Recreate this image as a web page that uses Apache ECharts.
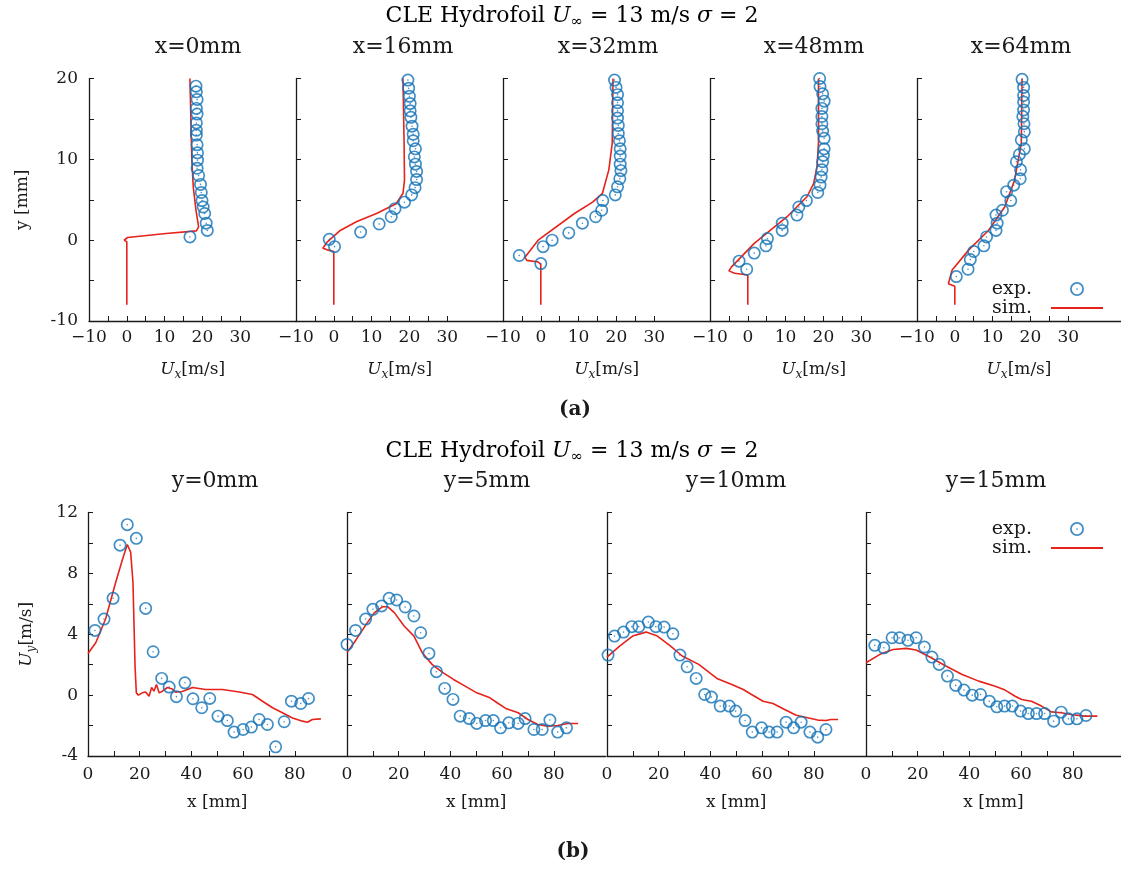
<!DOCTYPE html>
<html><head><meta charset="utf-8">
<script src="https://cdn.jsdelivr.net/npm/echarts@6/dist/echarts.min.js"></script>
<style>html,body{margin:0;padding:0;background:#fff}#c{width:1121px;height:869px}</style>
</head><body><div id="c"></div>
<script>
// ---------- (a) streamwise velocity profiles U_x(y) at several stations ----------
const topTitles = ['x=0mm', 'x=16mm', 'x=32mm', 'x=48mm', 'x=64mm'];
const topXTicks = [-10, 0, 10, 20, 30];
const topYTicks = [-10, 0, 10, 20];

const exp_x0 = [[18.3,19.05],[18.4,18.35],[18.6,17.4],[18.4,16.3],[18.6,15.6],[18.4,14.5],[18.4,13.6],[18.4,13.0],[18.6,11.8],[18.7,10.8],[18.7,9.9],[18.6,8.9],[19.0,8.0],[19.5,6.9],[19.7,5.9],[19.9,4.9],[20.2,4.1],[20.6,3.3],[21.0,2.1],[21.3,1.2],[16.7,0.4]];
const sim_x0 = [[16.7,20],[17.2,9.9],[17.6,6.5],[18.3,3.7],[19.0,1.65],[18.4,1.15],[9.7,0.8],[0.2,0.33],[-0.7,0],[0,-0.2],[0,-8]];

const exp_x16 = [[19.6,19.8],[19.8,18.8],[20.0,17.8],[20.2,16.9],[20.2,16.0],[20.4,15.2],[20.7,14.1],[21.0,13.1],[21.0,12.3],[21.6,11.3],[21.3,10.3],[21.6,9.4],[21.9,8.5],[21.9,7.5],[21.5,6.5],[20.6,5.6],[18.7,4.7],[16.2,3.9],[15.2,2.9],[12.0,2.0],[7.1,1.0],[-1.2,0.1],[0.2,-0.8]];
const sim_x16 = [[18.3,20],[18.6,12],[18.7,7.4],[18.3,5.8],[16.5,4.5],[11.3,3.3],[6.1,2.3],[1.7,1.2],[-1.7,-0.2],[-2.9,-1.0],[-1.7,-1.2],[0,-1.4],[0,-8]];

const exp_x32 = [[19.5,19.8],[19.9,18.9],[20.3,18.0],[20.3,17.0],[20.3,16.0],[20.3,15.1],[20.5,14.2],[20.5,13.2],[20.8,12.3],[21.0,11.3],[21.0,10.4],[21.0,9.4],[21.2,8.6],[20.9,7.6],[20.3,6.6],[19.7,5.6],[16.4,4.9],[16.1,3.7],[14.5,2.9],[11.0,2.1],[7.4,0.9],[3.0,0.0],[0.6,-0.8],[-5.7,-1.9],[0,-2.9]];
const sim_x32 = [[19.1,20],[18.9,12],[18.0,8.7],[16.3,5.8],[13.7,4.7],[8.9,3.3],[-0.7,0],[-4.2,-2.1],[-3.7,-2.5],[-0.7,-2.7],[0,-3.0],[0,-8]];

const exp_x48 = [[19.0,20.0],[19.1,19.0],[19.8,18.1],[20.2,17.2],[19.6,16.3],[19.6,15.3],[19.6,14.4],[19.8,13.5],[20.2,12.6],[20.2,11.3],[20.0,10.5],[19.8,9.7],[19.6,8.7],[19.4,7.8],[19.1,6.8],[18.5,5.9],[15.5,4.9],[13.5,4.1],[13.0,3.1],[9.1,2.1],[9.1,1.2],[5.2,0.2],[4.8,-0.7],[1.7,-1.6],[-2.3,-2.6],[-0.3,-3.6]];
const sim_x48 = [[18.7,20],[18.7,12],[18.3,9],[17.4,7.0],[15.7,5.4],[10.4,2.9],[1.7,-0.4],[-4.3,-3.3],[-5.0,-3.8],[-3.5,-4.1],[0,-4.3],[0,-8]];

const exp_x64 = [[17.8,19.9],[18.2,18.9],[18.2,17.9],[18.2,17.1],[18.2,16.1],[18.0,15.3],[18.3,14.4],[18.4,13.4],[17.6,12.4],[18.4,11.3],[17.1,10.6],[16.3,9.7],[17.4,8.7],[17.3,7.6],[15.6,6.8],[13.7,6.0],[14.8,4.9],[12.6,3.7],[10.9,3.1],[11.2,2.1],[10.9,1.2],[8.4,0.4],[7.7,-0.7],[5.0,-1.4],[4.1,-2.4],[3.5,-3.6],[0.4,-4.5]];
const sim_x64 = [[17.8,20],[17.6,12],[15.8,7.4],[13.2,4.1],[8.9,1.2],[3.7,-1.2],[-0.7,-3.7],[-1.7,-5.4],[0,-5.7],[0,-8]];

// ---------- (b) vertical velocity U_y(x) at several heights ----------
const botTitles = ['y=0mm', 'y=5mm', 'y=10mm', 'y=15mm'];
const botXTicks = [0, 20, 40, 60, 80];
const botYTicks = [-4, 0, 4, 8, 12];

const exp_y0 = [[2.7,4.25],[6.2,5.0],[9.7,6.36],[12.4,9.85],[15.2,11.2],[18.7,10.3],[22.3,5.7],[25.2,2.85],[28.5,1.1],[31.4,0.53],[34.2,-0.1],[37.5,0.81],[40.6,-0.24],[44.0,-0.83],[47.1,-0.22],[50.3,-1.38],[53.9,-1.67],[56.5,-2.43],[60.0,-2.26],[63.2,-2.1],[66.2,-1.6],[69.4,-1.93],[72.6,-3.4],[75.9,-1.75],[78.7,-0.4],[82.3,-0.55],[85.3,-0.22]];
const sim_y0 = [[0,2.74],[3.0,3.44],[6.8,5.0],[10.7,7.4],[13.3,8.9],[15.2,9.9],[16.5,9.4],[17.4,7.4],[18.2,1.9],[18.7,0.15],[19.5,0],[21.0,0.15],[22.3,0.2],[23.6,-0.07],[24.6,0.5],[25.5,0.26],[26.5,0.7],[27.5,0.15],[28.8,0.26],[30.7,0.5],[32.6,0.4],[33.9,0.2],[36.5,0.24],[40.4,0.5],[45.5,0.37],[52.0,0.37],[58.5,0.2],[63.6,0.04],[67.5,-0.4],[71.4,-0.83],[75.2,-1.16],[79.1,-1.5],[83.0,-1.71],[84.9,-1.78],[86.8,-1.6],[90.1,-1.56]];

const exp_y5 = [[0,3.33],[3.3,4.25],[7.2,5.0],[10.0,5.64],[13.4,5.86],[16.3,6.36],[19.2,6.25],[22.5,5.79],[25.9,5.2],[28.5,4.1],[31.7,2.74],[34.6,1.54],[37.8,0.44],[41.0,-0.28],[43.8,-1.38],[47.3,-1.54],[50.2,-1.86],[53.6,-1.67],[56.6,-1.67],[59.4,-2.15],[62.6,-1.82],[66.2,-1.86],[68.9,-1.54],[72.3,-2.26],[75.5,-2.26],[78.5,-1.64],[81.5,-2.43],[84.9,-2.15]];
const sim_y5 = [[0,2.79],[3.6,3.66],[7.4,4.65],[10.6,5.42],[13.8,5.81],[15.7,5.81],[18.3,5.42],[22.1,4.54],[25.9,3.88],[29.1,2.79],[32.9,2.02],[36.8,1.51],[41.2,1.03],[45.7,0.59],[50.2,0.15],[55.3,-0.18],[58.5,-0.55],[61.7,-0.9],[66.2,-1.16],[70.0,-1.6],[73.8,-1.93],[77.6,-2.04],[81.5,-2.0],[85.3,-1.86],[89.4,-1.86]];

const exp_y10 = [[0.4,2.63],[2.9,3.88],[6.4,4.14],[9.6,4.5],[12.3,4.5],[16.0,4.8],[18.9,4.5],[22.1,4.47],[25.5,4.03],[28.2,2.63],[31.0,1.86],[34.5,1.1],[37.8,0.04],[40.4,-0.13],[43.8,-0.72],[47.3,-0.72],[49.8,-1.05],[53.4,-1.67],[56.2,-2.43],[59.8,-2.15],[62.7,-2.43],[65.8,-2.43],[69.3,-1.78],[72.2,-2.15],[75.1,-1.78],[78.5,-2.43],[81.5,-2.76],[84.7,-2.26]];
const sim_y10 = [[0,2.5],[4.9,3.22],[9.9,3.88],[15.1,4.14],[19.5,3.88],[24.6,3.22],[29.1,2.57],[35.5,2.02],[42.5,1.1],[48.3,0.7],[52.7,0.37],[55.9,0.04],[60.4,-0.4],[64.2,-0.55],[68.7,-0.94],[73.2,-1.32],[77.6,-1.49],[81.5,-1.64],[84.7,-1.67],[86.6,-1.6],[89.4,-1.6]];

const exp_y15 = [[3.4,3.27],[6.9,3.11],[10.1,3.77],[13.0,3.77],[16.2,3.6],[19.4,3.77],[22.6,3.16],[25.5,2.5],[28.3,2.02],[31.5,1.25],[34.7,0.64],[37.9,0.33],[41.1,0],[44.3,0.04],[47.7,-0.4],[50.6,-0.77],[53.6,-0.72],[56.6,-0.72],[59.8,-1.05],[62.8,-1.21],[66.0,-1.21],[69.1,-1.21],[72.6,-1.71],[75.5,-1.12],[78.3,-1.56],[81.6,-1.56],[85.1,-1.34]];
const sim_y15 = [[0,2.13],[5.4,2.68],[10.5,3.0],[15.6,3.07],[19.4,2.96],[24.5,2.52],[30.9,1.91],[37.2,1.36],[43.6,0.92],[50.0,0.59],[53.8,0.33],[57.7,-0.07],[60.2,-0.29],[64.0,-0.4],[67.9,-0.72],[71.7,-1.1],[75.5,-1.16],[79.3,-1.27],[84.4,-1.38],[89.5,-1.38]];

const topExp = [exp_x0, exp_x16, exp_x32, exp_x48, exp_x64];
const topSim = [sim_x0, sim_x16, sim_x32, sim_x48, sim_x64];
const botExp = [exp_y0, exp_y5, exp_y10, exp_y15];
const botSim = [sim_y0, sim_y5, sim_y10, sim_y15];

// ---------- styling ----------
const FONT = 'DejaVu Serif';
const BLUE = '#1272b6';
const RED = '#e5231b';
const INK = '#1a1a1a';
// ring with a centre dot (outer circle, inner hole, dot)
const RING = 'path://M10,0A10,10 0 1 1 -10,0A10,10 0 1 1 10,0Z M7.4,0A7.4,7.4 0 1 0 -7.4,0A7.4,7.4 0 1 0 7.4,0Z M1.2,0A1.2,1.2 0 1 1 -1.2,0A1.2,1.2 0 1 1 1.2,0Z';

const mathRich = {
  n: { fontFamily: FONT, fontSize: 17, color: INK, lineHeight: 22 },
  i: { fontFamily: FONT, fontSize: 17, fontStyle: 'italic', color: INK, lineHeight: 22 },
  s: { fontFamily: FONT, fontSize: 12, fontStyle: 'italic', color: INK, lineHeight: 15, verticalAlign: 'bottom' }
};
const titleRich = {
  n: { fontFamily: FONT, fontSize: 22, color: INK, lineHeight: 28 },
  i: { fontFamily: FONT, fontSize: 22, fontStyle: 'italic', color: INK, lineHeight: 28 },
  s: { fontFamily: FONT, fontSize: 15, color: INK, lineHeight: 18, verticalAlign: 'bottom' }
};
const titleText = '{n|CLE Hydrofoil }{i|U}{s|∞}{n| = 13 m/s }{i|σ}{n| = 2}';

const minus = v => (v < 0 ? '\u2212' + (-v) : String(v));
const tickFont = { fontFamily: FONT, fontSize: 17, color: INK };

const grids = [], xAxes = [], yAxes = [], series = [], graphics = [];

// row (a) layout
const topLefts = [89, 296, 503, 710, 917];
const topWidths = [207.3, 207.3, 207.3, 207.3, 204];
const topPx = 3.78;           // pixels per m/s
const topTitleX = [198, 403, 608, 814, 1021];
topLefts.forEach((l, k) => {
  const gi = grids.length;
  grids.push({ left: l, top: 78.5, width: topWidths[k], height: 242.5 });
  xAxes.push({
    type: 'value', gridIndex: gi, min: -10, max: -10 + topWidths[k] / topPx,
    axisLine: { show: true, onZero: false, lineStyle: { color: INK, width: 1.3 } },
    axisTick: { show: true, inside: true, length: 5, customValues: [-10,-5,0,5,10,15,20,25,30], lineStyle: { color: INK } },
    axisLabel: Object.assign({ show: true, customValues: topXTicks, formatter: minus, margin: 8 }, tickFont),
    splitLine: { show: false },
    name: '{i|U}{s|x}{n|[m/s]}', nameLocation: 'middle', nameGap: 38,
    nameTextStyle: { rich: mathRich }
  });
  yAxes.push({
    type: 'value', gridIndex: gi, min: -10, max: 20, interval: 5,
    axisLine: { show: true, onZero: false, lineStyle: { color: INK, width: 1.3 } },
    axisTick: { show: true, inside: true, length: 5, lineStyle: { color: INK } },
    axisLabel: Object.assign({ show: k === 0, customValues: topYTicks, margin: 11 }, tickFont),
    splitLine: { show: false },
    name: k === 0 ? 'y [mm]' : '', nameLocation: 'middle', nameGap: 58,
    nameTextStyle: tickFont
  });
  series.push({
    type: 'line', name: 'sim.', xAxisIndex: gi, yAxisIndex: gi, data: topSim[k],
    symbol: 'none', showSymbol: false, lineStyle: { color: RED, width: 1.6 }, itemStyle: { color: RED }, z: 2
  });
  series.push({
    type: 'scatter', name: 'exp.', xAxisIndex: gi, yAxisIndex: gi, data: topExp[k],
    symbol: RING, symbolSize: 13, itemStyle: { color: BLUE }, z: 3
  });
  graphics.push({ type: 'text', x: topTitleX[k], y: 47, style: { text: topTitles[k], font: '22px "' + FONT + '"', fill: INK, align: 'center', verticalAlign: 'middle' } });
});

// row (b) layout
const botLefts = [88, 347, 607, 866];
const botWidths = [258.5, 258.5, 258.5, 255];
const botPx = 2.585;          // pixels per mm
const botTitleX = [215, 487, 736, 996];
botLefts.forEach((l, k) => {
  const gi = grids.length;
  grids.push({ left: l, top: 512.5, width: botWidths[k], height: 243.5 });
  xAxes.push({
    type: 'value', gridIndex: gi, min: 0, max: botWidths[k] / botPx,
    axisLine: { show: true, onZero: false, lineStyle: { color: INK, width: 1.3 } },
    axisTick: { show: true, inside: true, length: 5, customValues: [0,10,20,30,40,50,60,70,80], lineStyle: { color: INK } },
    axisLabel: Object.assign({ show: true, customValues: botXTicks, margin: 10 }, tickFont),
    splitLine: { show: false },
    name: 'x [mm]', nameLocation: 'middle', nameGap: 38,
    nameTextStyle: tickFont
  });
  yAxes.push({
    type: 'value', gridIndex: gi, min: -4, max: 12, interval: 2,
    axisLine: { show: true, onZero: false, lineStyle: { color: INK, width: 1.3 } },
    axisTick: { show: true, inside: true, length: 5, lineStyle: { color: INK } },
    axisLabel: Object.assign({ show: k === 0, customValues: botYTicks, margin: 10 }, tickFont),
    splitLine: { show: false },
    name: k === 0 ? '{i|U}{s|y}{n|[m/s]}' : '', nameLocation: 'middle', nameGap: 50,
    nameTextStyle: { rich: mathRich }
  });
  series.push({
    type: 'line', name: 'sim.', xAxisIndex: gi, yAxisIndex: gi, data: botSim[k],
    symbol: 'none', showSymbol: false, lineStyle: { color: RED, width: 1.6 }, itemStyle: { color: RED }, z: 2
  });
  series.push({
    type: 'scatter', name: 'exp.', xAxisIndex: gi, yAxisIndex: gi, data: botExp[k],
    symbol: RING, symbolSize: 13, itemStyle: { color: BLUE }, z: 3
  });
  graphics.push({ type: 'text', x: botTitleX[k], y: 481, style: { text: botTitles[k], font: '22px "' + FONT + '"', fill: INK, align: 'center', verticalAlign: 'middle' } });
});

// figure titles and panel tags
graphics.push({ type: 'text', x: 572, y: 16, style: { text: titleText, rich: titleRich, align: 'center', verticalAlign: 'middle' } });
graphics.push({ type: 'text', x: 572, y: 451, style: { text: titleText, rich: titleRich, align: 'center', verticalAlign: 'middle' } });
graphics.push({ type: 'text', x: 575, y: 410, style: { text: '(a)', font: 'bold 20px "' + FONT + '"', fill: INK, align: 'center', verticalAlign: 'middle' } });
graphics.push({ type: 'text', x: 573, y: 852, style: { text: '(b)', font: 'bold 20px "' + FONT + '"', fill: INK, align: 'center', verticalAlign: 'middle' } });

const legendBase = {
  orient: 'vertical', right: 17, align: 'right', itemWidth: 52, itemHeight: 14, itemGap: 0, padding: 0,
  selectedMode: false,
  data: [{ name: 'exp.' }, { name: 'sim.', itemStyle: { opacity: 0 } }],
  textStyle: { fontFamily: FONT, fontSize: 19, color: INK, lineHeight: 17, padding: [0, 14, 0, 0] }
};

const chart = echarts.init(document.getElementById('c'), null, { renderer: 'canvas' });
chart.setOption({
  backgroundColor: '#ffffff',
  animation: false,
  grid: grids,
  xAxis: xAxes,
  yAxis: yAxes,
  series: series,
  legend: [Object.assign({ top: 279.5 }, legendBase), Object.assign({ top: 519.5 }, legendBase)],
  graphic: graphics
});
</script></body></html>
